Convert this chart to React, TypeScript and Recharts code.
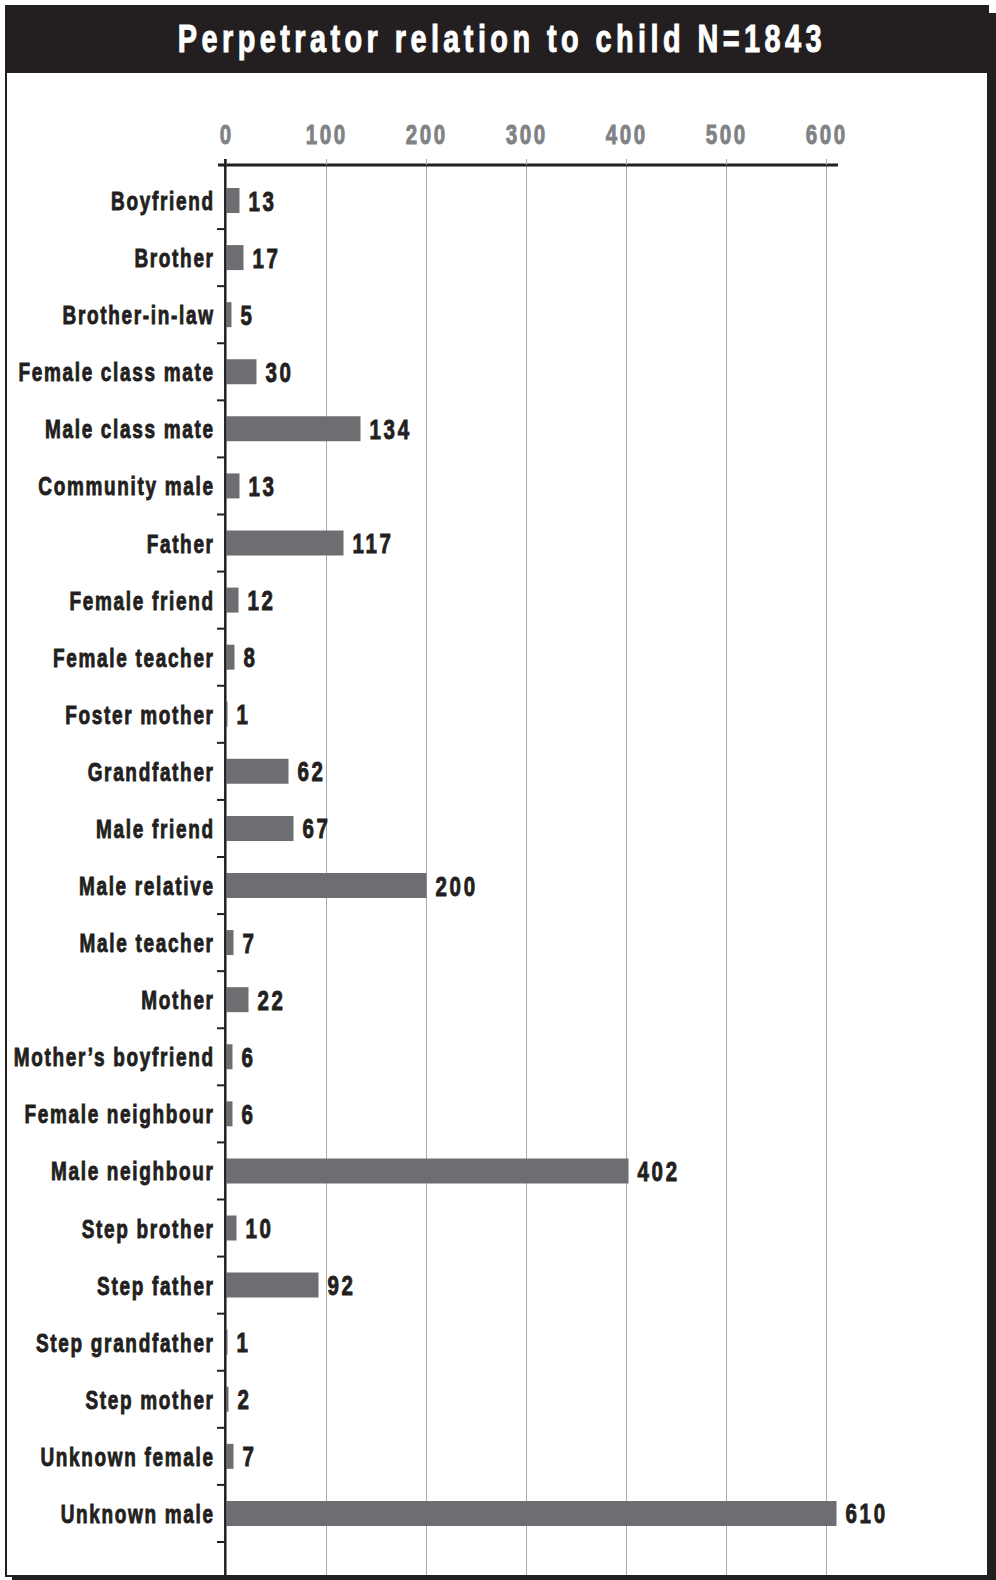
import { BarChart, Bar, XAxis, YAxis, CartesianGrid, ReferenceLine, LabelList } from "recharts";

const title = "Perpetrator relation to child N=1843";

const categories = [
  "Boyfriend",
  "Brother",
  "Brother-in-law",
  "Female class mate",
  "Male class mate",
  "Community male",
  "Father",
  "Female friend",
  "Female teacher",
  "Foster mother",
  "Grandfather",
  "Male friend",
  "Male relative",
  "Male teacher",
  "Mother",
  "Mother\u2019s boyfriend",
  "Female neighbour",
  "Male neighbour",
  "Step brother",
  "Step father",
  "Step grandfather",
  "Step mother",
  "Unknown female",
  "Unknown male",
];

const counts = [13, 17, 5, 30, 134, 13, 117, 12, 8, 1, 62, 67, 200, 7, 22, 6, 6, 402, 10, 92, 1, 2, 7, 610];

const xTicks = [0, 100, 200, 300, 400, 500, 600];

const data = categories.map((name, i) => ({ name, value: counts[i] }));

const INK = "#231f20";
const BAR = "#6d6e71";
const TICK_GREY = "#808285";
const GRID = "#a7a9ac";
const FONT = "'Liberation Sans', Arial, sans-serif";

// page + plot geometry
const W = 996;
const H = 1580;
const PLOT_TOP = 165;
const PLOT_BOTTOM = 1575;
const PLOT_RIGHT = 838;
const Y_AXIS_W = 218;
const X_AXIS_H = 60;
const PAD_TOP = 7;
const PAD_BOTTOM = 33;
const BAND = (PLOT_BOTTOM - PAD_BOTTOM - PLOT_TOP - PAD_TOP) / categories.length;

// bold text squeezed horizontally to look like a condensed face
function NarrowText(props: any) {
  const { x, y, anchor = "start", size, spacing, squeeze, fill, children } = props;
  const shift = anchor === "end" ? spacing * squeeze : anchor === "middle" ? (spacing * squeeze) / 2 : 0;
  return (
    <text
      transform={`translate(${x + shift},${y}) scale(${squeeze},1)`}
      x={0}
      y={0}
      textAnchor={anchor}
      fontFamily={FONT}
      fontSize={size}
      fontWeight="bold"
      letterSpacing={spacing}
      fill={fill}
      stroke={fill}
      strokeWidth={0.9}
    >
      {children}
    </text>
  );
}

function XTick(props: any) {
  const { x, y, payload } = props;
  return (
    <g>
      {payload.value === 0 && <line x1={x - 1.2} x2={x - 1.2} y1={y} y2={y + 7} stroke={INK} strokeWidth={2.5} />}
      <NarrowText x={x - 1} y={y - 15} anchor="middle" size={27} spacing={3.5} squeeze={0.76} fill={TICK_GREY}>
        {payload.value}
      </NarrowText>
    </g>
  );
}

function YTick(props: any) {
  const { x, y, payload } = props;
  return (
    <g>
      <NarrowText x={x} y={y + 9.5} anchor="end" size={26} spacing={2.3} squeeze={0.73} fill={INK}>
        {payload.value}
      </NarrowText>
      <line x1={x + 4} x2={x + 13} y1={y + BAND / 2} y2={y + BAND / 2} stroke={INK} strokeWidth={2} />
    </g>
  );
}

function ValueLabel(props: any) {
  const { x, y, width, height, value } = props;
  return (
    <NarrowText x={x + width + 9} y={y + height / 2 + 10} size={27} spacing={3.5} squeeze={0.76} fill={INK}>
      {value}
    </NarrowText>
  );
}

export default function App() {
  return (
    <div style={{ position: "absolute", left: 0, top: 0, width: W, height: H, overflow: "hidden", background: "#fff", fontFamily: FONT }}>
      <div
        style={{
          position: "absolute",
          left: 5,
          top: 5,
          width: 984,
          height: 1572,
          boxSizing: "border-box",
          border: `2px solid ${INK}`,
          boxShadow: `7px 8px 0 ${INK}`,
          background: "#fff",
        }}
      />
      <div
        style={{
          position: "absolute",
          left: 5,
          top: 5,
          width: 984,
          height: 68,
          boxSizing: "border-box",
          paddingLeft: 10,
          background: INK,
          color: "#fff",
          fontSize: 39,
          fontWeight: "bold",
          lineHeight: "68px",
          textAlign: "center",
          whiteSpace: "nowrap",
        }}
      >
        <span
          style={{
            display: "inline-block",
            letterSpacing: 6,
            transform: "scaleX(0.74)",
            WebkitTextStroke: "1px #fff",
          }}
        >
          {title}
        </span>
      </div>
      <div style={{ position: "absolute", left: 0, top: 0 }}>
        <BarChart
          width={W}
          height={H}
          data={data}
          layout="vertical"
          margin={{ top: PLOT_TOP - X_AXIS_H, right: W - PLOT_RIGHT, bottom: H - PLOT_BOTTOM, left: 0 }}
        >
          <CartesianGrid horizontal={false} verticalValues={xTicks.slice(1)} stroke={GRID} strokeWidth={1} />
          <XAxis
            type="number"
            orientation="top"
            domain={[-8.5, 611.5]}
            allowDataOverflow
            ticks={xTicks}
            interval={0}
            height={X_AXIS_H}
            axisLine={{ stroke: INK, strokeWidth: 3 }}
            tickLine={{ stroke: GRID }}
            tickSize={6}
            tickMargin={0}
            tick={(p: any) => <XTick {...p} />}
          />
          <YAxis
            type="category"
            dataKey="name"
            width={Y_AXIS_W}
            axisLine={false}
            tickLine={false}
            tickSize={0}
            tickMargin={5}
            interval={0}
            padding={{ top: PAD_TOP, bottom: PAD_BOTTOM }}
            tick={(p: any) => <YTick {...p} />}
          />
          <Bar dataKey="value" fill={BAR} barSize={25} isAnimationActive={false}>
            <LabelList dataKey="value" content={(p: any) => <ValueLabel {...p} />} />
          </Bar>
          <ReferenceLine x={-1.2} stroke={INK} strokeWidth={2.5} />
        </BarChart>
      </div>
    </div>
  );
}
